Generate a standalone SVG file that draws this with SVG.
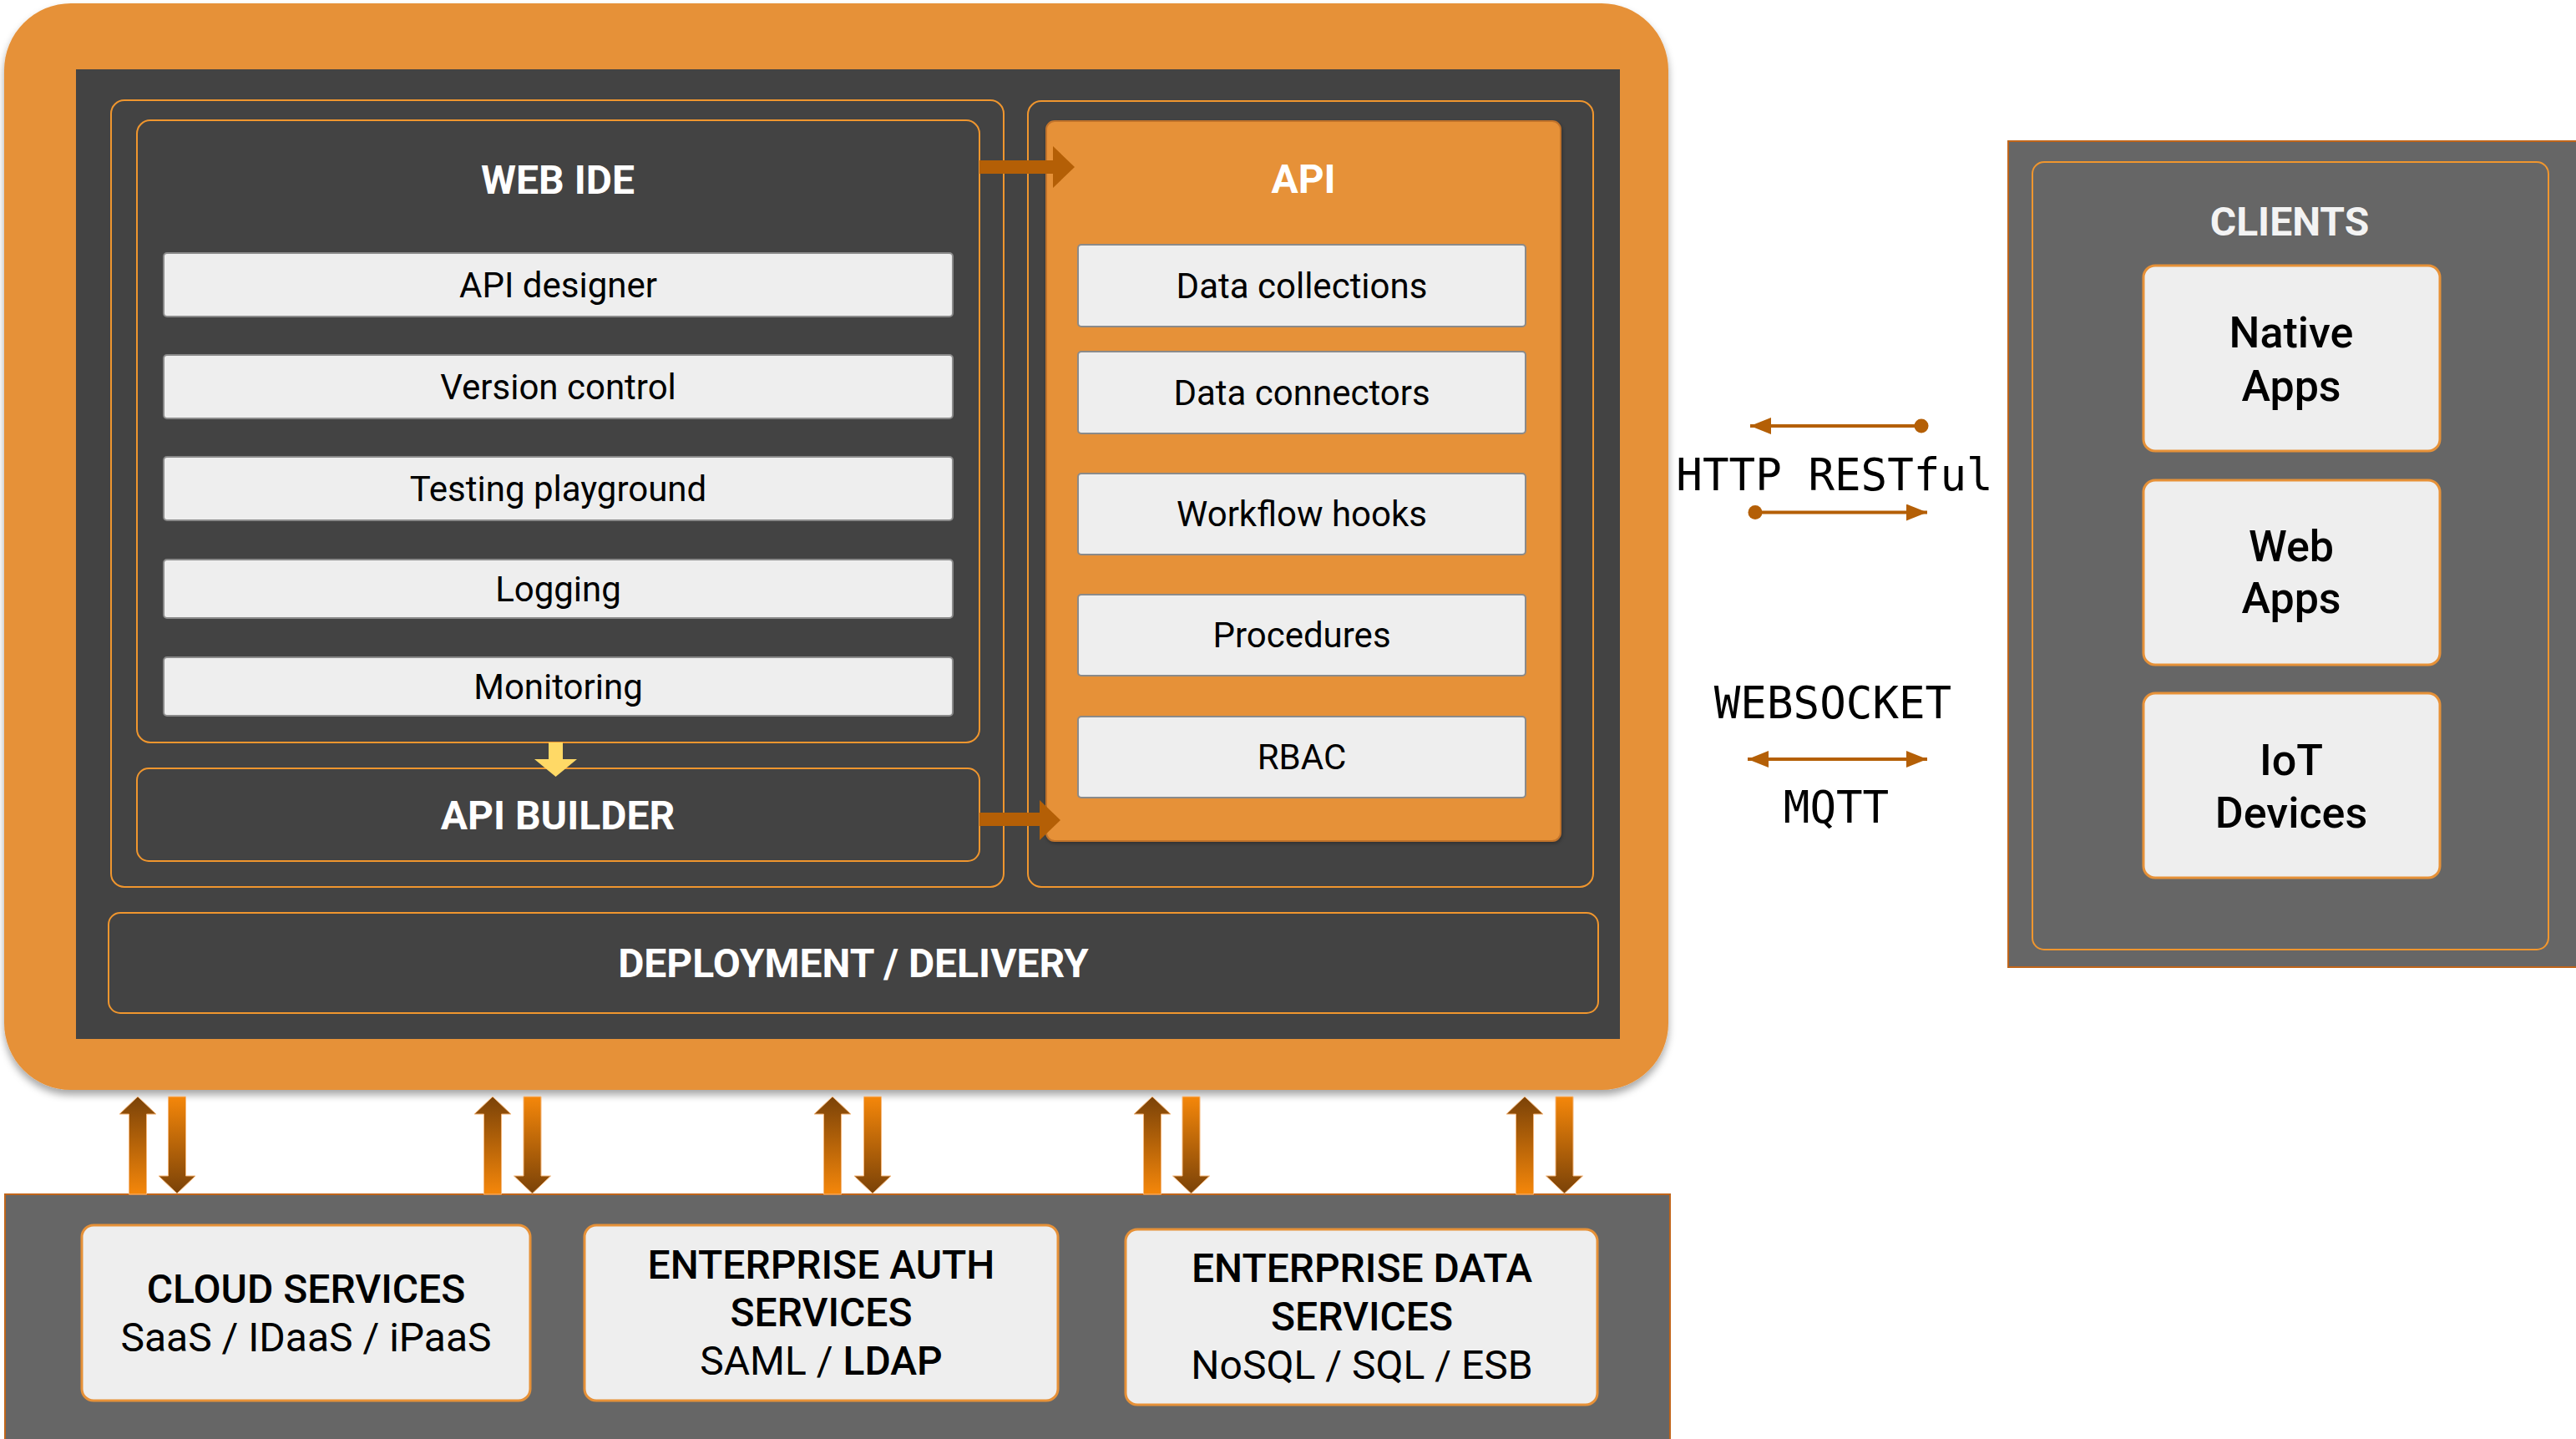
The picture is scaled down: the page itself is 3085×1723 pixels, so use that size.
<svg xmlns="http://www.w3.org/2000/svg" width="3085" height="1723" viewBox="0 0 3085 1723">
<defs>
<style>
.t{font-family:Roboto,"Liberation Sans",sans-serif;text-anchor:middle}
.h{font-weight:700;font-size:48px;fill:#ffffff}
.item{fill:#eeeeee;stroke:#8a8a8a;stroke-width:2}
.it{font-size:42px;fill:#000000}
.ol{fill:none;stroke:#f0962e;stroke-width:2}
.card{fill:#eeeeee;stroke:#e69138;stroke-width:3}
.ct{font-size:52px;font-weight:500;fill:#000000}
.st{font-size:48px;fill:#000000}
.mono{font-family:"DejaVu Sans Mono","Liberation Mono",monospace;font-size:52.5px;fill:#000000;text-anchor:middle}
.conn{stroke:#b45f06;stroke-width:4;fill:none}
.bra{fill:#b45f06}
.va{stroke:#f6b87c;stroke-width:1}
</style>
<linearGradient id="gUp" x1="0" y1="0" x2="0" y2="1"><stop offset="0" stop-color="#7a4208"/><stop offset="1" stop-color="#f5870a"/></linearGradient>
<linearGradient id="gDn" x1="0" y1="0" x2="0" y2="1"><stop offset="0" stop-color="#f5870a"/><stop offset="1" stop-color="#7a4208"/></linearGradient>
<filter id="sh" x="-5%" y="-5%" width="110%" height="115%"><feDropShadow dx="0" dy="6" stdDeviation="5" flood-color="#000000" flood-opacity="0.35"/></filter>
<filter id="sh2" x="-5%" y="-5%" width="110%" height="110%"><feDropShadow dx="1" dy="2" stdDeviation="2" flood-color="#000000" flood-opacity="0.3"/></filter>
<marker id="hl" viewBox="0 0 25 20" refX="25" refY="10" markerWidth="25" markerHeight="20" markerUnits="userSpaceOnUse" orient="auto-start-reverse"><path d="M0,0 L25,10 L0,20 Z" fill="#b45f06"/></marker>
<marker id="dot" viewBox="0 0 18 18" refX="9" refY="9" markerWidth="18" markerHeight="18" markerUnits="userSpaceOnUse"><circle cx="9" cy="9" r="8.5" fill="#b45f06"/></marker>
</defs>

<g id="platform">
<rect x="5" y="4" width="1993" height="1301" rx="80" fill="#e69138" filter="url(#sh)"/>
<rect x="91" y="83" width="1849" height="1161" fill="#434343"/>
</g>

<g id="web-ide-container">
<rect class="ol" x="133" y="120" width="1069" height="942" rx="16"/>
</g>

<g id="web-ide">
<rect class="ol" x="164" y="144" width="1009" height="745" rx="16"/>
<text class="t h" x="668" y="232">WEB IDE</text>
</g>

<g id="api-designer"><rect class="item" x="196" y="303" width="945" height="76" rx="4"/><text class="t it" x="668.5" y="356">API designer</text></g>
<g id="version-control"><rect class="item" x="196" y="425" width="945" height="76" rx="4"/><text class="t it" x="668.5" y="478">Version control</text></g>
<g id="testing-playground"><rect class="item" x="196" y="547" width="945" height="76" rx="4"/><text class="t it" x="668.5" y="600">Testing playground</text></g>
<g id="logging"><rect class="item" x="196" y="670" width="945" height="70" rx="4"/><text class="t it" x="668.5" y="720">Logging</text></g>
<g id="monitoring"><rect class="item" x="196" y="787" width="945" height="70" rx="4"/><text class="t it" x="668.5" y="837">Monitoring</text></g>

<g id="api-builder">
<rect class="ol" x="164" y="920" width="1009" height="111" rx="14"/>
<text class="t h" x="668" y="993">API BUILDER</text>
</g>

<g id="api-container">
<rect class="ol" x="1231" y="121" width="677" height="941" rx="16"/>
</g>

<g id="api">
<rect x="1253" y="145" width="616" height="862" rx="10" fill="#e69138" stroke="#c1732c" stroke-width="2" filter="url(#sh2)"/>
<text class="t h" x="1561" y="231">API</text>
</g>

<g id="data-collections"><rect class="item" x="1291" y="293" width="536" height="98" rx="4"/><text class="t it" x="1559" y="357">Data collections</text></g>
<g id="data-connectors"><rect class="item" x="1291" y="421" width="536" height="98" rx="4"/><text class="t it" x="1559" y="485">Data connectors</text></g>
<g id="workflow-hooks"><rect class="item" x="1291" y="567" width="536" height="97" rx="4"/><text class="t it" x="1559" y="630">Workflow hooks</text></g>
<g id="procedures"><rect class="item" x="1291" y="712" width="536" height="97" rx="4"/><text class="t it" x="1559" y="775">Procedures</text></g>
<g id="rbac"><rect class="item" x="1291" y="858" width="536" height="97" rx="4"/><text class="t it" x="1559" y="921">RBAC</text></g>

<g id="deployment">
<rect class="ol" x="130" y="1093" width="1784" height="120" rx="14"/>
<text class="t h" x="1022" y="1170">DEPLOYMENT / DELIVERY</text>
</g>

<g id="clients">
<rect x="2405" y="169" width="682" height="989" fill="#666666" stroke="#c0651a" stroke-width="2"/>
<rect class="ol" x="2434" y="194" width="618" height="943" rx="14" stroke="#e69138"/>
<text class="t" x="2742" y="282" font-size="48" font-weight="700" fill="#f3f3f3">CLIENTS</text>
</g>

<g id="native-apps"><rect class="card" x="2567" y="318" width="355" height="222" rx="14"/><text class="t ct" x="2744" y="416">Native</text><text class="t ct" x="2744" y="480">Apps</text></g>
<g id="web-apps"><rect class="card" x="2567" y="575" width="355" height="221" rx="14"/><text class="t ct" x="2744" y="672">Web</text><text class="t ct" x="2744" y="734">Apps</text></g>
<g id="iot-devices"><rect class="card" x="2567" y="830" width="355" height="221" rx="14"/><text class="t ct" x="2744" y="928">IoT</text><text class="t ct" x="2744" y="991">Devices</text></g>

<g id="services">
<rect x="6" y="1430" width="1994" height="300" fill="#666666" stroke="#c0651a" stroke-width="2"/>
</g>

<g id="cloud-services"><rect class="card" x="98" y="1467" width="537" height="210" rx="14"/><text class="t st" x="366.5" y="1560" font-weight="500">CLOUD SERVICES</text><text class="t st" x="366.5" y="1618">SaaS / IDaaS / iPaaS</text></g>
<g id="enterprise-auth"><rect class="card" x="700" y="1467" width="567" height="210" rx="14"/><text class="t st" x="983.5" y="1531" font-weight="500">ENTERPRISE AUTH</text><text class="t st" x="983.5" y="1588" font-weight="500">SERVICES</text><text class="t st" x="983.5" y="1646">SAML / <tspan font-weight="500">LDAP</tspan></text></g>
<g id="enterprise-data"><rect class="card" x="1348" y="1472" width="565" height="210" rx="14"/><text class="t st" x="1631" y="1535" font-weight="500">ENTERPRISE DATA</text><text class="t st" x="1631" y="1593" font-weight="500">SERVICES</text><text class="t st" x="1631" y="1651">NoSQL / SQL / ESB</text></g>

<g id="protocol-labels">
<text class="mono" x="2197" y="587">HTTP RESTful</text>
<text class="mono" x="2195" y="860">WEBSOCKET</text>
<text class="mono" x="2199" y="985">MQTT</text>
</g>

<g id="connectors">
<rect x="1173" y="192" width="90" height="16" class="bra"/>
<path class="bra" d="M1261,175 L1287,200 L1261,225 Z"/>
<rect x="1173" y="973" width="74" height="16" class="bra"/>
<path class="bra" d="M1245,958 L1270,982 L1245,1006 Z"/>
<path fill="#ffd966" d="M657,889 L674,889 L674,909 L691,909 L665.5,930 L640,909 L657,909 Z"/>

<line class="conn" x1="2301" y1="510" x2="2096" y2="510" marker-start="url(#dot)" marker-end="url(#hl)"/>
<line class="conn" x1="2102" y1="613.5" x2="2308" y2="613.5" marker-start="url(#dot)" marker-end="url(#hl)"/>
<line class="conn" x1="2093" y1="909" x2="2308" y2="909" marker-start="url(#hl)" marker-end="url(#hl)"/>

<path class="va" fill="url(#gUp)" d="M165,1313 L187,1334 L175.5,1334 L175.5,1430 L154.5,1430 L154.5,1334 L143,1334 Z"/>
<path class="va" fill="url(#gDn)" d="M201.5,1313 L222.5,1313 L222.5,1408 L234,1408 L212,1429 L190,1408 L201.5,1408 Z"/>
<path class="va" fill="url(#gUp)" d="M590,1313 L612,1334 L600.5,1334 L600.5,1430 L579.5,1430 L579.5,1334 L568,1334 Z"/>
<path class="va" fill="url(#gDn)" d="M627,1313 L648,1313 L648,1408 L659.5,1408 L637.5,1429 L615.5,1408 L627,1408 Z"/>
<path class="va" fill="url(#gUp)" d="M997,1313 L1019,1334 L1007.5,1334 L1007.5,1430 L986.5,1430 L986.5,1334 L975,1334 Z"/>
<path class="va" fill="url(#gDn)" d="M1034.5,1313 L1055.5,1313 L1055.5,1408 L1067,1408 L1045,1429 L1023,1408 L1034.5,1408 Z"/>
<path class="va" fill="url(#gUp)" d="M1380,1313 L1402,1334 L1390.5,1334 L1390.5,1430 L1369.5,1430 L1369.5,1334 L1358,1334 Z"/>
<path class="va" fill="url(#gDn)" d="M1416,1313 L1437,1313 L1437,1408 L1448.5,1408 L1426.5,1429 L1404.5,1408 L1416,1408 Z"/>
<path class="va" fill="url(#gUp)" d="M1826,1313 L1848,1334 L1836.5,1334 L1836.5,1430 L1815.5,1430 L1815.5,1334 L1804,1334 Z"/>
<path class="va" fill="url(#gDn)" d="M1863,1313 L1884,1313 L1884,1408 L1895.5,1408 L1873.5,1429 L1851.5,1408 L1863,1408 Z"/>
</g>
</svg>
